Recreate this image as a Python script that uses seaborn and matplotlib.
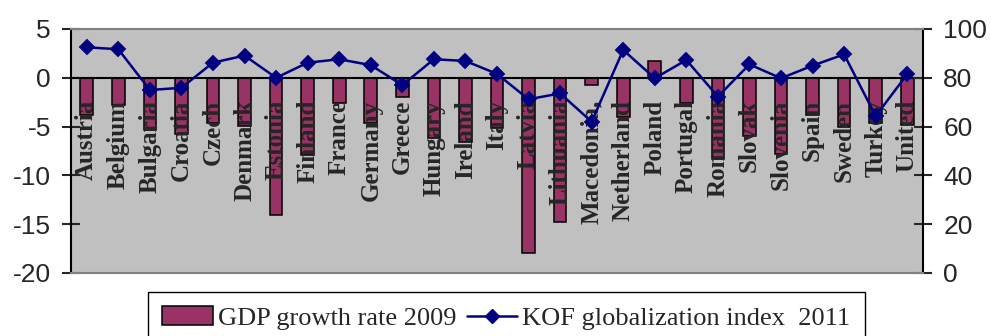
import seaborn as sns
import matplotlib.pyplot as plt
import numpy as np
from matplotlib.patches import Patch
from matplotlib.lines import Line2D

countries = ["Austria", "Belgium", "Bulgaria", "Croatia", "Czech", "Denmark",
             "Estonia", "Finland", "France", "Germany", "Greece", "Hungary",
             "Ireland", "Italy", "Latvia", "Lithuania", "Macedonia,", "Netherland",
             "Poland", "Portugal", "Romania", "Slovak", "Slovenia", "Spain",
             "Sweden", "Turkey", "United"]

# GDP growth rate 2009 (left axis, %)
gdp_2009 = [-3.8, -2.8, -5.3, -5.8, -4.6, -4.9, -14.1, -7.9, -2.6, -4.6, -2.0, -6.2,
            -6.6, -5.1, -18.0, -14.8, -0.7, -4.0, 1.7, -2.6, -8.3, -6.0, -7.8, -3.8,
            -5.0, -4.6, -4.8]

# KOF globalization index 2011 (right axis)
kof_2011 = [92.5, 91.7, 75.0, 75.9, 86.2, 89.1, 80.0, 86.2, 87.6, 85.2, 77.0, 87.6,
            86.9, 81.6, 71.2, 73.6, 62.0, 91.4, 79.8, 87.3, 72.3, 85.5, 79.8, 85.0,
            89.6, 64.3, 81.5]

left_ticks = [-20, -15, -10, -5, 0, 5]
right_ticks = [0, 20, 40, 60, 80, 100]

bar_color = "#993366"
line_color = "#000080"

sns.set_style("white")
plt.rcParams["font.family"] = ["Liberation Sans", "DejaVu Sans"]
plt.rcParams["axes.unicode_minus"] = False
serif = ["Liberation Serif", "DejaVu Serif"]
sans = ["Liberation Sans", "DejaVu Sans"]

fig = plt.figure(figsize=(9.91, 3.36), dpi=100)
ax = fig.add_axes([0.0716, 0.1875, 0.8598, 0.7262])
ax.set_facecolor("#C0C0C0")

sns.barplot(x=countries, y=gdp_2009, color=bar_color, saturation=1, width=0.4,
            edgecolor="black", linewidth=1.1, ax=ax)

# category names sit just under the zero line, over the bars
for i, name in enumerate(countries):
    ax.annotate(name, xy=(i, 0), xytext=(0, -16), textcoords="offset points",
                rotation=90, ha="center", va="top", fontsize=18,
                fontweight="bold", family=serif, zorder=3)

ax2 = ax.twinx()
sns.pointplot(x=countries, y=kof_2011, color=line_color, markers="D",
              markersize=7.5, linewidth=1.8, ax=ax2)

n = len(countries)
ax.set_xlim(-0.5, n - 0.5)
ax.set_ylim(-20, 5)
ax2.set_ylim(0, 100)

# category boundaries as cross ticks
ax.set_xticks(np.arange(n + 1) - 0.5)
ax.set_xticklabels([""] * (n + 1))
ax.tick_params(axis="x", which="both", direction="inout", length=13, width=1.5)
ax.tick_params(axis="x", which="minor", length=0)

ax.set_yticks(left_ticks)
ax.set_yticklabels([str(v) for v in left_ticks], family=sans, fontsize=19)
ax.tick_params(axis="y", direction="inout", length=13, width=1.5, pad=8)
ax2.set_yticks(right_ticks)
ax2.set_yticklabels([str(v) for v in right_ticks], family=sans, fontsize=19)
ax2.tick_params(axis="y", direction="inout", length=13, width=1.5, pad=8)

ax.spines["bottom"].set_position(("data", 0))
for s in ["bottom", "left"]:
    ax.spines[s].set_color("black")
    ax.spines[s].set_linewidth(1.5)
ax.spines["top"].set_visible(False)
ax.spines["right"].set_visible(False)
ax2.spines["left"].set_visible(False)
ax2.spines["right"].set_color("black")
ax2.spines["right"].set_linewidth(1.5)
for s in ["top", "bottom"]:
    ax2.spines[s].set_color("#808080")
    ax2.spines[s].set_linewidth(1.5)

ax.set_xlabel("")
ax.set_ylabel("")
ax2.set_xlabel("")
ax2.set_ylabel("")

handles = [
    Patch(facecolor=bar_color, edgecolor="black", linewidth=1.1),
    Line2D([], [], color=line_color, marker="D", markersize=7.5, linewidth=1.8),
]
fig.legend(handles, ["GDP growth rate 2009", "KOF globalization index  2011"],
           loc="upper center", bbox_to_anchor=(0.511, 0.131), ncol=2,
           frameon=True, fancybox=False, edgecolor="black", framealpha=1,
           prop={"family": serif, "size": 19},
           handlelength=1.9, handletextpad=0.2, columnspacing=0.4,
           borderpad=0.55, borderaxespad=0)

fig.savefig("out.png", dpi=100)
